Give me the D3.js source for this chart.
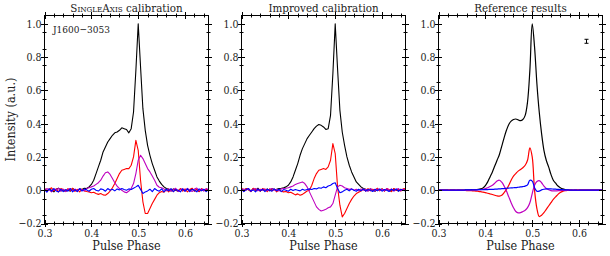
<!DOCTYPE html>
<html>
<head>
<meta charset="utf-8">
<script src="https://cdn.jsdelivr.net/npm/d3@7"></script>
<style>
body { margin: 0; background: #fff; }
svg text { font-family: "DejaVu Serif", serif; font-stretch: condensed; fill: #222; }
</style>
</head>
<body>
<script>
// pulse phase grid, 0.3 .. 0.65 in steps of 0.005 (71 bins)
var phase = d3.range(71).map(function(i) { return +(0.3 + i * 0.005).toFixed(3); });

var panelTitles = ["SingleAxis calibration", "Improved calibration", "Reference results"];
var xTicks = [0.3, 0.4, 0.5, 0.6];
var yTicks = [-0.2, 0.0, 0.2, 0.4, 0.6, 0.8, 1.0];

// panel 1: SingleAxis calibration
var I1 = [0.01,-0.005,0.008,0,-0.01,0.006,0.012,-0.004,0.003,-0.008,
  0.005,-0.006,0.01,0,-0.004,0.008,0.004,0.012,0.01,0.02,
  0.035,0.06,0.1,0.14,0.18,0.23,0.26,0.29,0.31,0.33,
  0.345,0.35,0.36,0.375,0.37,0.365,0.345,0.37,0.47,0.72,
  1.0,0.74,0.49,0.36,0.27,0.21,0.16,0.12,0.08,0.055,
  0.035,0.02,0.01,0.005,-0.005,0.008,0,-0.006,0.007,0.003,
  -0.004,0.006,0,0.009,-0.005,0.004,-0.008,0.005,0.002,-0.003,0.006];
var L1 = [0.012,-0.008,0.005,0.015,-0.004,0.008,-0.01,0.01,0.004,-0.006,
  0.009,-0.003,0.012,-0.007,0.005,-0.01,0.006,-0.004,-0.008,-0.01,
  -0.015,-0.012,-0.02,-0.025,-0.02,-0.028,-0.03,-0.02,-0.005,0.015,
  0.04,0.07,0.1,0.12,0.125,0.13,0.13,0.15,0.2,0.3,
  0.24,0.06,-0.07,-0.14,-0.14,-0.11,-0.08,-0.055,-0.03,-0.015,
  -0.008,-0.012,0.004,-0.01,0.006,-0.008,0.006,-0.004,0.01,-0.006,
  0.008,-0.01,0.004,0.012,-0.005,0.007,-0.008,0.01,0,0.006,-0.004];
var V1 = [-0.006,0.01,0.003,-0.01,0.008,0,0.012,-0.005,0.006,-0.008,
  0.004,0.01,-0.006,0.007,-0.003,0.009,0.002,-0.004,0.01,0.015,
  0.02,0.025,0.035,0.045,0.06,0.085,0.105,0.11,0.095,0.07,
  0.045,0.025,0.01,0,-0.01,-0.015,-0.005,0.01,0.04,0.1,
  0.18,0.21,0.19,0.16,0.13,0.11,0.085,0.06,0.03,0.018,
  0.015,0.008,-0.004,0.01,-0.006,0.005,0.012,-0.008,0.004,0.009,
  -0.005,0.011,0,-0.008,0.007,0.013,-0.004,0.008,-0.006,0.01,0.004];
var B1 = [0.005,-0.012,0.008,-0.006,0.01,-0.004,-0.01,0.006,-0.008,0.004,
  -0.006,0.01,-0.01,0.004,-0.008,0.009,-0.005,0.007,0.002,-0.006,
  0.006,0.01,0,-0.005,0.008,0.004,-0.006,0.01,0,0.006,
  -0.004,0.008,0.002,0.01,0.004,0,0.008,0.004,0.012,0.02,
  0.03,0.005,-0.02,-0.01,-0.004,0.006,-0.008,0.01,0,-0.006,
  0.008,-0.01,0.006,-0.004,0.01,-0.008,0.004,0,-0.01,0.008,
  -0.005,0.01,-0.008,0.006,0,-0.01,0.008,-0.004,0.006,-0.008,0.004];

// panel 2: improved calibration
var I2 = [0.008,-0.004,0.01,0.003,-0.006,0.009,0,0.012,-0.005,0.005,
  0,0.008,-0.004,0.01,0.004,0.006,0.01,0.012,0.015,0.02,
  0.03,0.05,0.08,0.12,0.16,0.21,0.25,0.28,0.31,0.33,
  0.35,0.37,0.385,0.395,0.39,0.38,0.365,0.37,0.45,0.7,
  1.0,0.73,0.48,0.35,0.27,0.2,0.15,0.11,0.08,0.05,
  0.035,0.02,0.01,0.006,-0.004,0.008,0,-0.006,0.005,0.002,
  0.007,-0.004,0.005,0,-0.006,0.008,0.002,-0.005,0.006,0,0.004];
var L2 = [0.015,-0.005,0.01,0.004,-0.008,0.012,0,0.008,-0.006,0.01,
  0.004,-0.008,0.008,-0.004,0.006,-0.01,0.002,-0.006,-0.01,-0.008,
  -0.015,-0.012,-0.02,-0.028,-0.022,-0.03,-0.025,-0.015,-0.005,0,
  0.03,0.07,0.1,0.12,0.125,0.13,0.125,0.14,0.18,0.28,
  0.22,0.02,-0.09,-0.16,-0.14,-0.11,-0.08,-0.055,-0.035,-0.02,
  -0.012,-0.005,0.008,-0.006,0.01,-0.004,0.006,0,0.012,-0.004,
  0.008,-0.006,0.01,0.004,-0.008,0.01,0,0.006,-0.005,0.008,0.01];
var V2 = [-0.005,0.008,0,0.01,-0.006,0.004,0.01,-0.004,0.006,0,
  0.008,-0.004,0.006,0.01,0,0.005,-0.005,0.008,0.01,0.012,
  0.015,0.02,0.025,0.035,0.04,0.045,0.05,0.04,0.02,-0.01,
  -0.04,-0.07,-0.1,-0.115,-0.125,-0.12,-0.115,-0.105,-0.1,-0.08,
  -0.03,0.02,0.03,0.025,0.015,0.01,0.005,0.008,0,0.006,
  -0.004,0.008,0,0.006,-0.006,0.01,0.002,-0.005,0.008,0,
  0.006,-0.004,0.01,0,0.008,-0.006,0.004,0.01,-0.004,0.006,0];
var B2 = [0.006,-0.008,0.004,0.01,-0.006,0.002,-0.01,0.008,-0.004,0.006,
  -0.008,0.005,0,-0.006,0.008,-0.004,0.006,-0.008,0.004,0,
  -0.006,0.006,-0.002,0.004,0,-0.004,0.006,0,0.004,0.008,
  0.004,0.01,0.008,0.015,0.012,0.02,0.015,0.025,0.03,0.04,
  0.045,0.01,-0.015,-0.01,0,0.006,-0.004,0.008,0,-0.006,
  0.006,-0.004,0.008,-0.006,0.004,0,-0.008,0.006,-0.004,0.008,
  -0.006,0.004,0,-0.008,0.006,-0.002,0.008,-0.006,0.004,0,-0.004];

// panel 3: reference results (smooth)
var I3 = [0,0,0,0,0,0,0,0,0,0.001,
  0.001,0.001,0.002,0.002,0.003,0.003,0.004,0.005,0.008,0.014,
  0.028,0.05,0.08,0.11,0.145,0.18,0.215,0.265,0.315,0.36,
  0.395,0.415,0.425,0.428,0.423,0.418,0.425,0.45,0.53,0.72,
  1.0,0.86,0.64,0.47,0.34,0.24,0.18,0.14,0.095,0.06,
  0.042,0.025,0.015,0.008,0.004,0.002,0.001,0,0,0,
  0,0,0,0,0,0,0,0,0,0,0];
var L3 = [0,0,0,0,0,0,0,0,0,0,
  -0.001,-0.001,-0.002,-0.002,-0.003,-0.004,-0.005,-0.007,-0.009,-0.011,
  -0.014,-0.018,-0.022,-0.026,-0.03,-0.034,-0.035,-0.03,-0.015,0.005,
  0.03,0.06,0.085,0.1,0.115,0.125,0.135,0.15,0.18,0.255,
  0.2,0,-0.11,-0.158,-0.15,-0.135,-0.115,-0.095,-0.075,-0.055,
  -0.04,-0.025,-0.014,-0.007,-0.003,-0.001,0,0,0,0,
  0,0,0,0,0,0,0,0,0,0,0];
var V3 = [0,0,0,0,0,0,0,0,0,0,
  0,0,0,0.001,0.001,0.002,0.002,0.003,0.004,0.006,
  0.01,0.015,0.022,0.03,0.042,0.055,0.06,0.048,0.025,-0.005,
  -0.04,-0.075,-0.105,-0.128,-0.136,-0.135,-0.128,-0.12,-0.105,-0.075,
  -0.02,0.03,0.052,0.058,0.045,0.025,0.01,0.003,-0.002,-0.004,
  -0.004,-0.003,-0.002,-0.001,-0.001,0,0,0,0,0,
  0,0,0,0,0,0,0,0,0,0,0];
var B3 = [0,0,0,0,0,0,0.001,0.001,0.001,0.001,
  0.001,0.001,0.002,0.002,0.002,0.002,0.002,0.003,0.003,0.003,
  0.004,0.004,0.005,0.005,0.006,0.007,0.008,0.009,0.01,0.012,
  0.013,0.014,0.015,0.016,0.018,0.02,0.022,0.025,0.032,0.06,
  0.055,0.015,-0.006,-0.005,0.002,0.006,0.008,0.008,0.008,0.007,
  0.006,0.005,0.004,0.003,0.002,0.002,0.001,0.001,0.001,0,
  0,0,0,0,0,0,0,0,0,0,0];

// typical uncertainty marker in the reference panel
var errPhase = 0.615, errValue = 0.895, errSize = 0.012;

var seriesColors = ["black", "#ff0000", "#bf00bf", "#0000ff"];
var panels = [[I1, L1, V1, B1], [I2, L2, V2, B2], [I3, L3, V3, B3]];

var width = 610, height = 256;
var lefts = [44.5, 241.5, 438.5];
var plotW = 164;
var plotTop = 15.5, plotBottom = 223.5;

var svg = d3.select("body")
            .append("svg")
            .attr("width", width)
            .attr("height", height);

var y = d3.scaleLinear().domain([-0.2, 1.05]).range([plotBottom, plotTop]);

var xMinor = d3.range(16, 33).map(function(i) { return i * 0.02; })
               .filter(function(v) { return v > 0.301 && v < 0.649 && Math.abs(v * 10 - Math.round(v * 10)) > 0.01; });
var yMinor = d3.range(-3, 21, 2).map(function(i) { return i * 0.05; })
               .filter(function(v) { return v < 1.04; });

var drawPanel = function(p)
{
  var left = lefts[p];
  var x = d3.scaleLinear().domain([0.3, 0.65]).range([left, left + plotW]);
  var g = svg.append("g");

  g.append("clipPath")
    .attr("id", "clip" + p)
    .append("rect")
    .attr("x", left)
    .attr("y", plotTop)
    .attr("width", plotW)
    .attr("height", plotBottom - plotTop);

  var line = d3.line()
    .x(function(d, i) { return x(phase[i]); })
    .y(function(d) { return y(d); })
    .curve(p == 2 ? d3.curveCatmullRom : d3.curveLinear);

  panels[p].forEach(function(s, k) {
    g.append("path")
      .attr("d", line(s))
      .attr("clip-path", "url(#clip" + p + ")")
      .attr("fill", "none")
      .attr("stroke", seriesColors[k])
      .attr("stroke-width", p == 2 ? 1.2 : 1.1)
      .attr("stroke-linejoin", "round");
  });

  // ticks on all four sides, through the frame
  var ticks = g.append("g").attr("stroke", "black").attr("stroke-width", 1);
  [plotBottom, plotTop].forEach(function(yy) {
    xTicks.forEach(function(v) {
      ticks.append("line").attr("x1", Math.round(x(v)) + 0.5).attr("x2", Math.round(x(v)) + 0.5)
        .attr("y1", yy - 3.5).attr("y2", yy + 3.5);
    });
    xMinor.forEach(function(v) {
      ticks.append("line").attr("x1", Math.round(x(v)) + 0.5).attr("x2", Math.round(x(v)) + 0.5)
        .attr("y1", yy - 2).attr("y2", yy + 2);
    });
  });
  [left, left + plotW].forEach(function(xx) {
    yTicks.forEach(function(v) {
      ticks.append("line").attr("y1", Math.round(y(v)) + 0.5).attr("y2", Math.round(y(v)) + 0.5)
        .attr("x1", xx - 3.5).attr("x2", xx + 3.5);
    });
    yMinor.forEach(function(v) {
      ticks.append("line").attr("y1", Math.round(y(v)) + 0.5).attr("y2", Math.round(y(v)) + 0.5)
        .attr("x1", xx - 2).attr("x2", xx + 2);
    });
  });

  g.append("rect")
    .attr("x", left)
    .attr("y", plotTop)
    .attr("width", plotW)
    .attr("height", plotBottom - plotTop)
    .attr("fill", "none")
    .attr("stroke", "black")
    .attr("stroke-width", 1);

  // tick labels through d3 axes
  var xAxis = g.append("g")
    .attr("transform", "translate(0," + plotBottom + ")")
    .call(d3.axisBottom(x).tickValues(xTicks).tickFormat(d3.format(".1f")).tickSize(0).tickPadding(6));
  var yAxis = g.append("g")
    .attr("transform", "translate(" + left + ",0)")
    .call(d3.axisLeft(y).tickValues(yTicks).tickFormat(d3.format(".1f")).tickSize(0).tickPadding(3));
  [xAxis, yAxis].forEach(function(a) {
    a.attr("font-family", null).attr("font-size", null);
    a.select(".domain").remove();
    a.selectAll("text").attr("fill", "#222").style("font-size", "10.5px");
  });

  // title
  var t = g.append("text")
    .attr("x", left + plotW / 2)
    .attr("y", 11.5)
    .attr("text-anchor", "middle")
    .style("font-size", "11.5px");
  if (p == 0) {
    t.append("tspan").style("font-variant", "small-caps").text("SingleAxis");
    t.append("tspan").text(" calibration");
  } else {
    t.text(panelTitles[p]);
  }

  g.append("text")
    .text("Pulse Phase")
    .attr("x", left + plotW / 2)
    .attr("y", 250)
    .attr("text-anchor", "middle")
    .style("font-size", "12.5px");

  if (p == 0) {
    g.append("text")
      .text("J1600\u22123053")
      .attr("x", 53)
      .attr("y", 33)
      .style("font-size", "10px");
  }

  if (p == 2) {
    var eb = g.append("g").attr("stroke", "black").attr("stroke-width", 1);
    var ex = Math.round(x(errPhase)) + 0.5;
    eb.append("line").attr("x1", ex).attr("x2", ex)
      .attr("y1", y(errValue - errSize)).attr("y2", y(errValue + errSize));
    [errValue - errSize, errValue + errSize].forEach(function(v) {
      eb.append("line").attr("x1", ex - 2).attr("x2", ex + 2)
        .attr("y1", y(v)).attr("y2", y(v));
    });
  }
};

for (var p = 0; p < 3; p++) {
  drawPanel(p);
}

svg.append("text")
  .text("Intensity (a.u.)")
  .attr("transform", "translate(14.5," + (plotBottom + plotTop) / 2 + ") rotate(-90)")
  .attr("text-anchor", "middle")
  .style("font-size", "12.5px");
</script>
</body>
</html>
